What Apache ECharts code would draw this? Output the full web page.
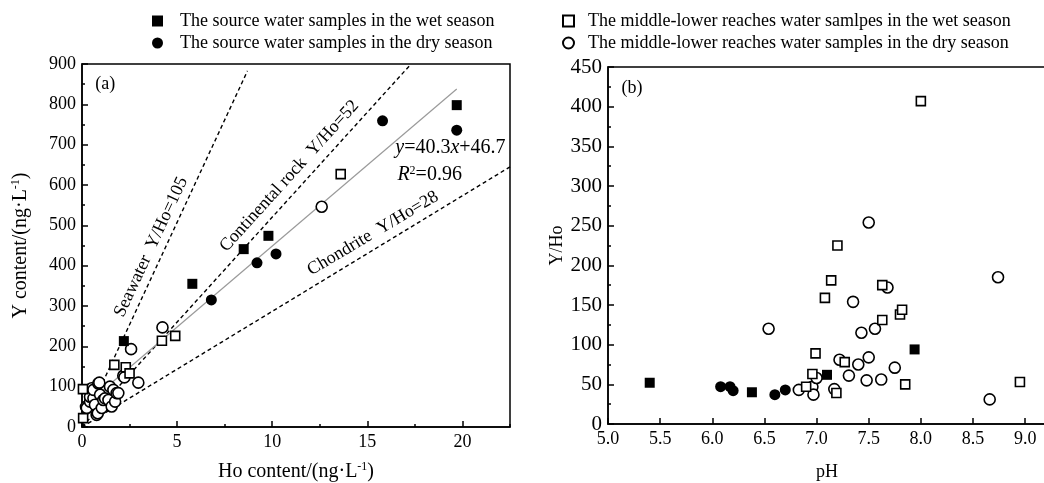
<!DOCTYPE html>
<html lang="en">
<head>
    <meta charset="UTF-8">
    <script src="https://cdn.jsdelivr.net/npm/echarts@6.0.0/dist/echarts.min.js"></script>
    <title>Y/Ho</title>
</head>
<body style="margin:0;background:#fff">
<div id="container" style="width:1044px;height:483px"></div>
<script type="application/javascript">
    // legend names
    const nameSrcWet = 'The source water samples in the wet season';
    const nameSrcDry = 'The source water samples in the dry season';
    const nameMidWet = 'The middle-lower reaches water samlpes in the wet season';
    const nameMidDry = 'The middle-lower reaches water samples in the dry season';

    // (a) Ho content vs Y content, ng/L
    const srcWetA = [[2.2, 213], [5.8, 355], [8.5, 441], [9.8, 474], [19.7, 798]];
    const srcDryA = [[6.8, 315], [9.2, 407], [10.2, 429], [15.8, 759], [19.7, 736]];
    const midWetA = [[0.05, 94], [0.06, 22], [1.7, 154], [2.3, 148], [2.5, 133], [4.2, 214], [4.9, 226], [13.6, 627]];
    const midDryA = [[0.21, 50], [0.25, 47], [0.42, 63], [0.42, 75], [0.51, 96], [0.6, 71], [0.6, 92], [0.68, 55],
        [0.77, 30], [0.83, 34], [0.86, 108], [0.91, 110], [0.95, 80], [1.04, 47], [1.12, 67], [1.21, 71],
        [1.39, 67], [1.47, 100], [1.56, 51], [1.65, 92], [1.74, 63], [1.82, 84], [1.91, 84], [2.17, 127],
        [2.23, 123], [2.58, 193], [2.96, 110], [4.23, 247], [12.6, 546]];
    // reference ratio lines and fit line (end points)
    const seawaterLine = [[0, 0], [8.7, 883]];
    const continentalLine = [[0, 0], [17.3, 900]];
    const chondriteLine = [[0, 0], [22.5, 645]];
    const fitLine = [[0, 47], [19.7, 838]];

    // (b) pH vs Y/Ho
    const srcWetB = [[5.40, 52], [6.38, 40], [7.10, 62], [7.94, 94]];
    const srcDryB = [[6.08, 47], [6.17, 47], [6.20, 42], [6.60, 37], [6.70, 43]];
    const midWetB = [[6.90, 47], [6.96, 63], [6.99, 89], [7.08, 159], [7.14, 181], [7.19, 39], [7.20, 225],
        [7.27, 78], [7.63, 175], [7.63, 131], [7.80, 138], [7.82, 144], [7.85, 50], [8.00, 407], [8.95, 53]];
    const midDryB = [[6.54, 120], [6.83, 43], [6.96, 47], [6.97, 37], [7.00, 58], [7.17, 44], [7.22, 81],
        [7.31, 61], [7.35, 154], [7.40, 75], [7.43, 115], [7.48, 55], [7.50, 84], [7.50, 254], [7.56, 120],
        [7.62, 56], [7.68, 172], [7.75, 71], [8.66, 31], [8.74, 185]];

    const FONT = '"Liberation Serif", "Times New Roman", serif';
    const BLACK = '#000';

    const dom = document.getElementById('container');
    var myChart = echarts.init(dom, null, {renderer: 'canvas'});

    function supRich(size) {
        return {sup: {fontSize: size, fontFamily: FONT, color: BLACK, padding: [0, 0, 9, 0]}};
    }

    function valueAxis(grid, extra) {
        return Object.assign({
            gridIndex: grid,
            type: 'value',
            axisLine: {onZero: false, lineStyle: {color: BLACK, width: 1.5}},
            axisTick: {inside: true, length: 6, lineStyle: {color: BLACK, width: 1.5}},
            splitLine: {show: false},
            nameLocation: 'middle'
        }, extra);
    }

    function label(size, extra) {
        return Object.assign({color: BLACK, fontSize: size, fontFamily: FONT, margin: 6}, extra);
    }

    function nameStyle(size) {
        return {color: BLACK, fontSize: size, fontFamily: FONT, rich: supRich(Math.round(size * 0.6))};
    }

    const filled = {color: BLACK, opacity: 1};
    const hollow = {color: '#fff', borderColor: BLACK, borderWidth: 1.6, opacity: 1};

    function scatter(name, grid, data, symbol, size, style) {
        return {
            name: name, type: 'scatter', xAxisIndex: grid, yAxisIndex: grid,
            data: data, symbol: symbol, symbolSize: size, itemStyle: style, z: 3
        };
    }

    function refLine(data, style) {
        return {
            type: 'line', xAxisIndex: 0, yAxisIndex: 0, data: data, showSymbol: false,
            symbol: 'none', lineStyle: style, z: 2, silent: true
        };
    }

    const dashed = {color: BLACK, width: 1.4, type: [4, 3]};
    const minor = {show: true, splitNumber: 2, length: 3, lineStyle: {color: BLACK, width: 1.5}};

    var option = {
        animation: false,
        backgroundColor: '#fff',
        grid: [
            {left: 82, top: 64, width: 428, height: 363, show: true, borderColor: BLACK, borderWidth: 1.5, outerBoundsMode: 'none'},
            {left: 608, top: 67, width: 438, height: 357, show: true, borderColor: BLACK, borderWidth: 1.5, outerBoundsMode: 'none'}
        ],
        legend: [
            {
                left: 147, top: 7, orient: 'vertical', itemGap: 4, itemWidth: 11, itemHeight: 11,
                data: [{name: nameSrcWet, icon: 'rect'}, {name: nameSrcDry, icon: 'circle'}],
                textStyle: {color: BLACK, fontSize: 18, fontFamily: FONT, padding: [0, 0, 0, 12]}
            },
            {
                left: 557, top: 7, orient: 'vertical', itemGap: 4, itemWidth: 11, itemHeight: 11,
                data: [{name: nameMidWet, icon: 'rect'}, {name: nameMidDry, icon: 'circle'}],
                textStyle: {color: BLACK, fontSize: 18, fontFamily: FONT, padding: [0, 0, 0, 9]}
            }
        ],
        xAxis: [
            valueAxis(0, {
                min: 0, max: 22.5, interval: 5,
                axisLabel: label(18, {showMaxLabel: false}),
                name: 'Ho content/(ng·L{sup|-1})', nameGap: 34, nameTextStyle: nameStyle(20)
            }),
            valueAxis(1, {
                min: 5, max: 9.2, interval: 0.5,
                axisLabel: label(18, {
                    showMaxLabel: false,
                    formatter: function (v) { return v.toFixed(1); }
                }),
                name: 'pH', nameGap: 39, nameTextStyle: nameStyle(18)
            }),
            // short ticks every 2.5 on panel (a)
            {
                gridIndex: 0, type: 'value', min: 0, max: 22.5, interval: 2.5, position: 'bottom',
                axisLine: {show: false}, axisLabel: {show: false}, splitLine: {show: false},
                axisTick: {inside: true, length: 3, lineStyle: {color: BLACK, width: 1.5}}
            }
        ],
        yAxis: [
            valueAxis(0, {
                min: 0, max: 900, interval: 100, minorTick: minor,
                axisLabel: label(18),
                name: 'Y content/(ng·L{sup|-1})', nameGap: 51, nameTextStyle: nameStyle(20)
            }),
            valueAxis(1, {
                min: 0, max: 450, interval: 50, minorTick: minor,
                axisLabel: label(21),
                name: 'Y/Ho', nameGap: 33, nameTextStyle: nameStyle(18)
            })
        ],
        series: [
            refLine(seawaterLine, dashed),
            refLine(continentalLine, dashed),
            refLine(chondriteLine, dashed),
            refLine(fitLine, {color: '#9a9a9a', width: 1.2}),
            scatter(nameMidDry, 0, midDryA, 'circle', 11, hollow),
            scatter(nameMidWet, 0, midWetA, 'rect', 9, hollow),
            scatter(nameSrcWet, 0, srcWetA, 'rect', 10, filled),
            scatter(nameSrcDry, 0, srcDryA, 'circle', 11, filled),
            scatter(nameMidDry, 1, midDryB, 'circle', 11, hollow),
            scatter(nameMidWet, 1, midWetB, 'rect', 9, hollow),
            scatter(nameSrcWet, 1, srcWetB, 'rect', 10, filled),
            scatter(nameSrcDry, 1, srcDryB, 'circle', 11, filled)
        ]
    };
    myChart.setOption(option);

    // labels along the ratio lines, placed in data coordinates
    const lineLabels = [
        {text: 'Seawater  Y/Ho=105', at: [3.63, 446], ratio: 101},
        {text: 'Continental rock  Y/Ho=52', at: [10.9, 622], ratio: 52},
        {text: 'Chondrite  Y/Ho=28', at: [15.3, 480], ratio: 28}
    ];

    function toPx(grid, p) {
        return myChart.convertToPixel({gridIndex: grid}, p);
    }

    const graphics = [];
    const o = toPx(0, [0, 0]);
    lineLabels.forEach(function (l) {
        const q = toPx(0, [1, l.ratio]);
        const c = toPx(0, l.at);
        graphics.push({
            type: 'text', x: c[0], y: c[1], rotation: Math.atan2(o[1] - q[1], q[0] - o[0]),
            style: {text: l.text, fill: BLACK, font: '18px ' + FONT, align: 'center', verticalAlign: 'middle'}
        });
    });
    const eq = toPx(0, [16.47, 692]);
    const r2 = toPx(0, [16.58, 625]);
    const italic = {font: 'italic 20px ' + FONT, fill: BLACK};
    graphics.push({
        type: 'text', x: eq[0], y: eq[1],
        style: {text: '{i|y}=40.3{i|x}+46.7', fill: BLACK, font: '20px ' + FONT, verticalAlign: 'middle', rich: {i: italic}}
    });
    graphics.push({
        type: 'text', x: r2[0], y: r2[1],
        style: {
            text: '{i|R}{s|2}=0.96', fill: BLACK, font: '20px ' + FONT, verticalAlign: 'middle',
            rich: {i: italic, s: {font: '12px ' + FONT, fill: BLACK, padding: [0, 0, 9, 0]}}
        }
    });
    const pa = toPx(0, [0.7, 850]);
    const pb = toPx(1, [5.13, 423]);
    graphics.push({type: 'text', x: pa[0], y: pa[1], style: {text: '(a)', fill: BLACK, font: '18px ' + FONT, verticalAlign: 'middle'}});
    graphics.push({type: 'text', x: pb[0], y: pb[1], style: {text: '(b)', fill: BLACK, font: '18px ' + FONT, verticalAlign: 'middle'}});
    myChart.setOption({graphic: graphics});
</script>
</body>
</html>
